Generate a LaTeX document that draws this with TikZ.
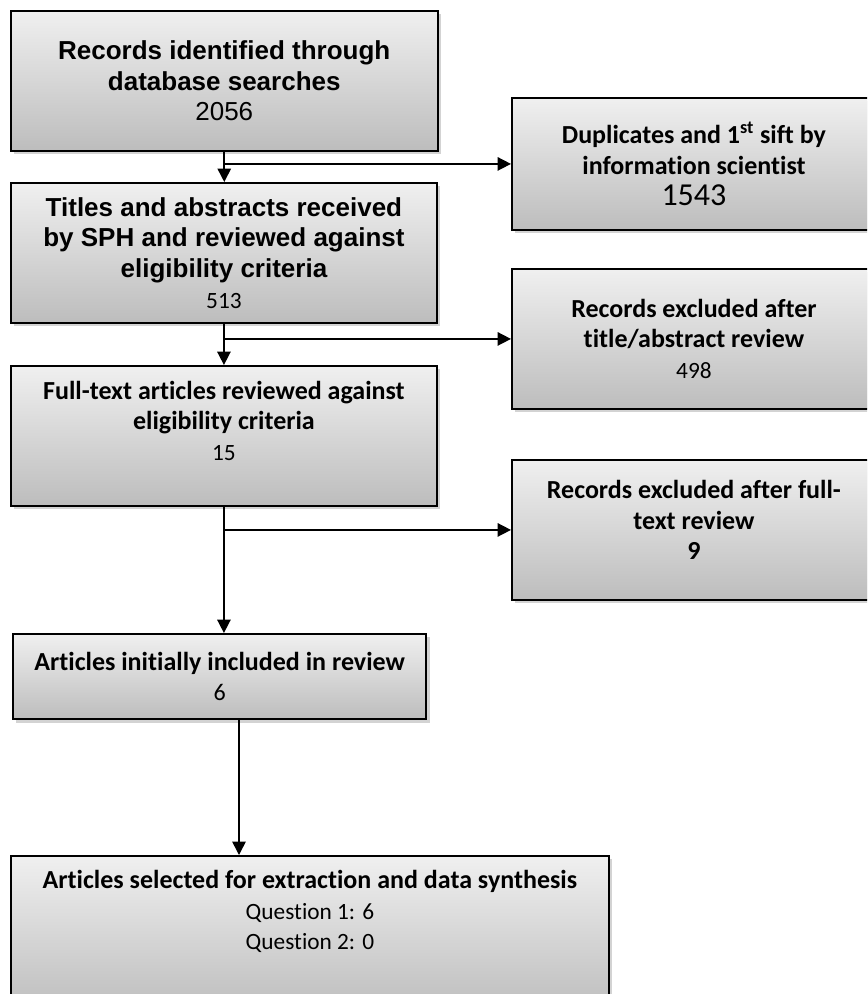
\documentclass[tikz,border=0pt]{standalone}
\usepackage{fontspec}
\setmainfont{Carlito}[Ligatures=NoCommon]
\newfontfamily\arialfont{Liberation Sans}
\usepackage{tikz}
\usetikzlibrary{arrows, arrows.meta, shadows}
\newcommand{\hd}{\fontsize{19.5}{23}\selectfont\bfseries}
\newcommand{\nm}[1]{\mdseries\fontsize{#1}{#1}\selectfont}

\begin{document}
\begin{tikzpicture}[x=0.75pt, y=-0.75pt,
  box/.style={draw, line width=1.4pt, top color=gray!12, bottom color=gray!52,
    drop shadow={shadow xshift=2.5pt, shadow yshift=-2.5pt, opacity=0.35},
    anchor=north west, align=center, inner sep=0pt, font=\hd},
  link/.style={line width=1.2pt, >={Triangle[length=10pt, width=10pt]}, ->}]
  \useasboundingbox (0,0) rectangle (867,994);
  \clip (0,0) rectangle (867,994);

  % left column
  \node[box, minimum width=320pt, minimum height=105pt] (rec) at (10,10)
    {\arialfont Records identified through\\ \arialfont database searches\\ \arialfont\mdseries 2056};
  \node[box, minimum width=319.5pt, minimum height=105pt] (tit) at (10,182)
    {\arialfont Titles and abstracts received\\ \arialfont by SPH and reviewed against\\ \arialfont eligibility criteria\\ \nm{17.5}513};
  \node[box, minimum width=319.5pt, minimum height=105pt] (full) at (10,365)
    {Full-text articles reviewed against\\ eligibility criteria\\ \nm{17.5}15\\ \mbox{}};
  \node[box, minimum width=310pt, minimum height=64pt] (init) at (12,633)
    {Articles initially included in review\\ \nm{18}6};
  \node[box, minimum width=448.5pt, minimum height=118pt] (sel) at (10,855)
    {Articles selected for extraction and data synthesis\\ \nm{17.5}Question 1: 6\\ \nm{17.5}Question 2: 0\\[14pt] \mbox{}};

  % right column
  \node[box, minimum width=273pt, minimum height=99pt] (dup) at (511,97)
    {Duplicates and 1\textsuperscript{st} sift by\\ information scientist\\ \nm{24}1543};
  \node[box, minimum width=273pt, minimum height=105pt] (exta) at (511,268)
    {Records excluded after\\ title/abstract review\\ \nm{17.5}498};
  \node[box, minimum width=273pt, minimum height=105pt] (extf) at (511,459)
    {Records excluded after full-\\ text review\\ 9\\[-8pt] \mbox{}};

  % connectors
  \coordinate (j1) at (rec.south |- dup.west);
  \coordinate (j2) at (tit.south |- exta.west);
  \coordinate (j3) at (full.south |- extf.west);
  \coordinate (j4) at (239,0);

  \draw[link] (rec.south) -- (rec.south |- tit.north);
  \draw[link] (j1) -- (dup.west);
  \draw[link] (tit.south) -- (tit.south |- full.north);
  \draw[link] (j2) -- (exta.west);
  \draw[link] (full.south) -- (full.south |- init.north);
  \draw[link] (j3) -- (extf.west);
  \draw[link] (init.south -| j4) -- (sel.north -| j4);
\end{tikzpicture}
\end{document}
